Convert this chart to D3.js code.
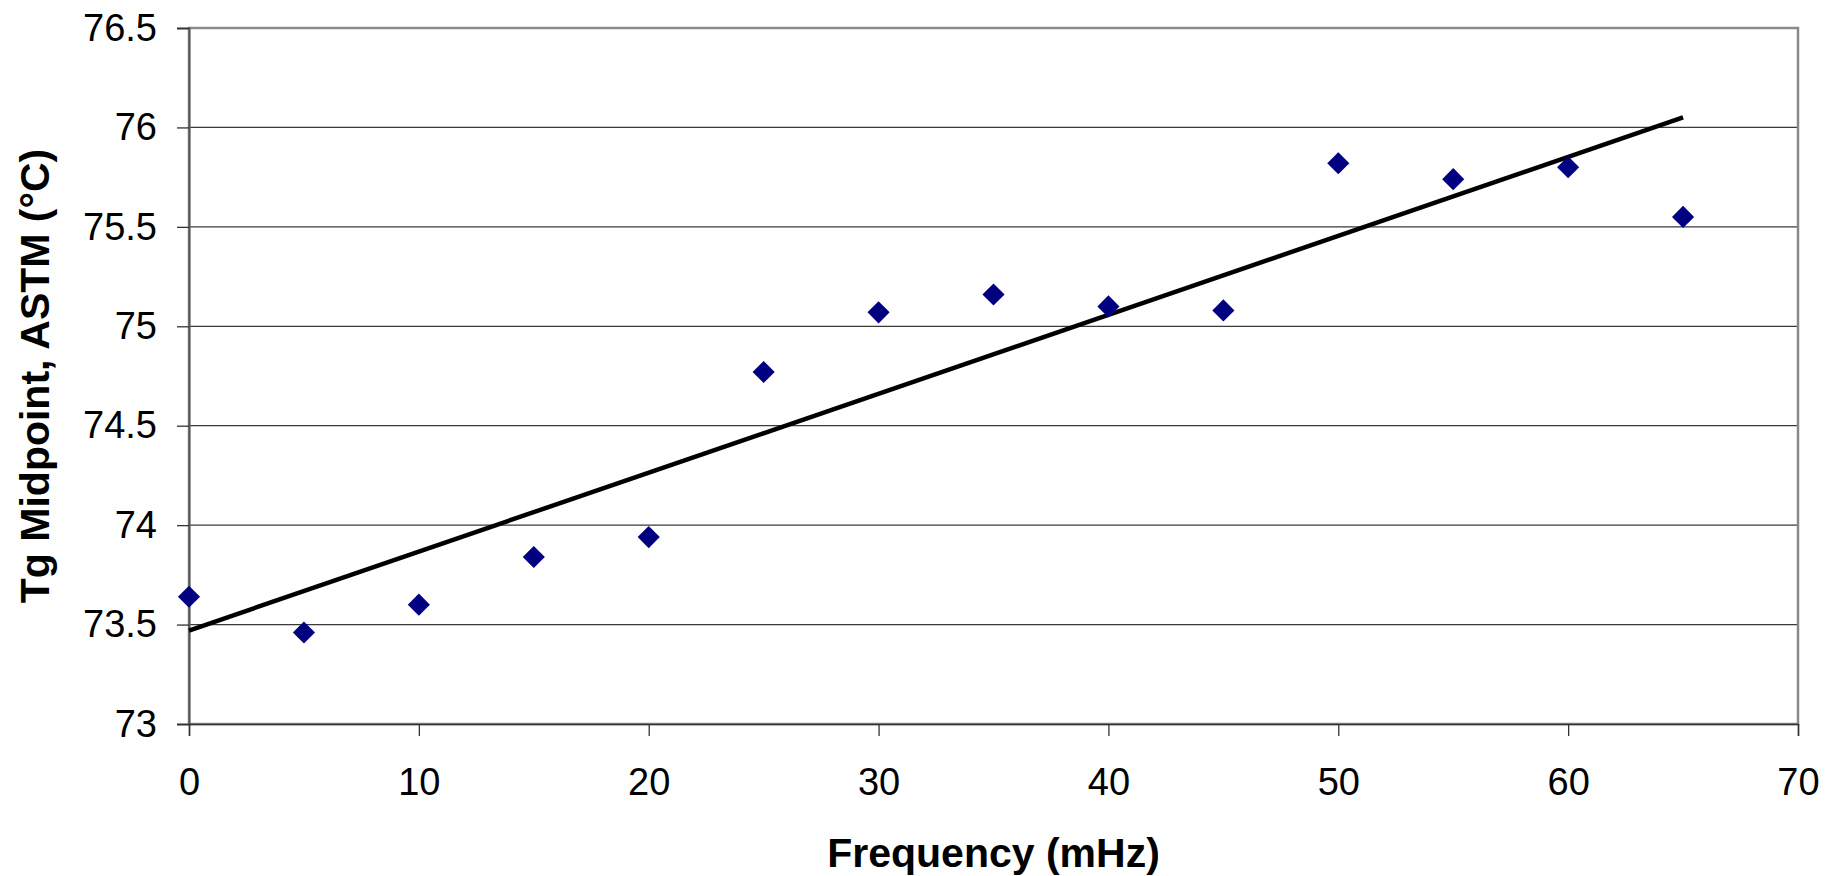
<!DOCTYPE html>
<html>
<head>
<meta charset="utf-8">
<script src="https://cdn.jsdelivr.net/npm/d3@7"></script>
<style>
    body { margin: 0; background: #fff; }
    text { font-family: "Liberation Sans", Arial, sans-serif; fill: #000; }
</style>
</head>
<body>
<script>
// measured Tg midpoints per frequency
const frequency = [0, 5, 10, 15, 20, 25, 30, 35, 40, 45, 50, 55, 60, 65]
const tgMidpoint = [73.64, 73.46, 73.60, 73.84, 73.94, 74.77, 75.07, 75.16, 75.10, 75.08, 75.82, 75.74, 75.80, 75.55]

// linear trendline endpoints
const trendX = [0, 65]
const trendY = [73.47, 76.05]

const xTicks = [0, 10, 20, 30, 40, 50, 60, 70]
const yTicks = [73, 73.5, 74, 74.5, 75, 75.5, 76, 76.5]

const width = 1825
const height = 876
const margin = { top: 28, right: 27, bottom: 152, left: 189 }

const svg = d3.select("body").append("svg")
    .attr("width", width)
    .attr("height", height)

const x = d3.scaleLinear().domain([0, 70]).range([margin.left, width - margin.right])
const y = d3.scaleLinear().domain([73, 76.5]).range([height - margin.bottom, margin.top])

// horizontal gridlines
svg.append("g")
    .selectAll("line")
    .data(yTicks)
    .join("line")
    .attr("x1", x(0))
    .attr("x2", x(70))
    .attr("y1", d => y(d))
    .attr("y2", d => y(d))
    .attr("stroke", "#3a3a3a")
    .attr("stroke-width", 1.3)

// plot frame
svg.append("rect")
    .attr("x", x(0))
    .attr("y", y(76.5))
    .attr("width", x(70) - x(0))
    .attr("height", y(73) - y(76.5))
    .attr("fill", "none")
    .attr("stroke", "#8a8a8a")
    .attr("stroke-width", 2.5)

const yAxis = svg.append("g")
    .attr("transform", `translate(${x(0)},0)`)
    .call(d3.axisLeft(y).tickValues(yTicks).tickSize(12).tickPadding(20).tickFormat(d3.format("")))
yAxis.select(".domain").attr("stroke", "#555").attr("stroke-width", 2)
yAxis.selectAll(".tick line").attr("stroke", "#333").attr("stroke-width", 1.3)
yAxis.selectAll("text").style("font-size", "38px").attr("fill", "#000")

const xAxis = svg.append("g")
    .attr("transform", `translate(0,${y(73)})`)
    .call(d3.axisBottom(x).tickValues(xTicks).tickSize(12).tickPadding(32))
xAxis.select(".domain").attr("stroke", "#333").attr("stroke-width", 1.5)
xAxis.selectAll(".tick line").attr("stroke", "#333").attr("stroke-width", 1.3)
xAxis.selectAll("text").style("font-size", "38px").attr("fill", "#000")

// trendline
const trend = trendX.map((d, i) => [d, trendY[i]])
svg.append("path")
    .datum(trend)
    .attr("fill", "none")
    .attr("stroke", "#000")
    .attr("stroke-width", 4.5)
    .attr("d", d3.line().x(d => x(d[0])).y(d => y(d[1])))

// diamond markers
const diamond = d3.symbol().type(d3.symbolSquare).size(245)
svg.append("g")
    .selectAll("path")
    .data(frequency)
    .join("path")
    .attr("d", diamond)
    .attr("transform", (d, i) => `translate(${x(d)},${y(tgMidpoint[i])}) rotate(45)`)
    .attr("fill", "#000080")

// axis titles
svg.append("text")
    .attr("x", (x(0) + x(70)) / 2)
    .attr("y", 867)
    .attr("text-anchor", "middle")
    .style("font-size", "41px")
    .style("font-weight", "bold")
    .text("Frequency (mHz)")

svg.append("text")
    .attr("transform", `translate(49,${(y(73) + y(76.5)) / 2}) rotate(-90)`)
    .attr("text-anchor", "middle")
    .style("font-size", "41px")
    .style("font-weight", "bold")
    .text("Tg Midpoint, ASTM (°C)")
</script>
</body>
</html>
